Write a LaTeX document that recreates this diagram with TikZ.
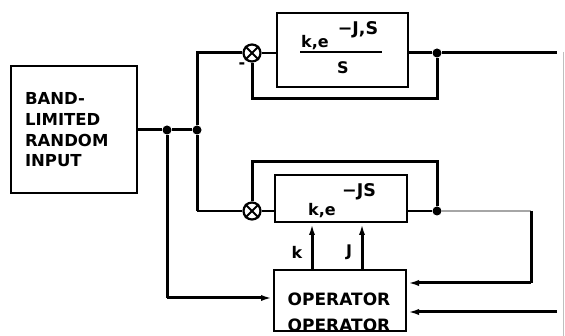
\documentclass[tikz,border=0pt]{standalone}
\usepackage{fontspec}
\setmainfont{DejaVu Sans}
\usetikzlibrary{arrows.meta}
\begin{document}
\begin{tikzpicture}[x=1pt,y=-1pt,
  thick line/.style={line width=3pt},
  thin line/.style={line width=1.3pt},
  blockbox/.style={draw, line width=2pt, inner sep=0pt},
  lab/.style={font=\bfseries\fontsize{16.5}{20.7}\selectfont, inner sep=0pt},
  boxtxt/.style={font=\bfseries\fontsize{16}{18}\selectfont, inner sep=0pt},
  suptxt/.style={font=\bfseries\fontsize{17.5}{18}\selectfont, inner sep=0pt},
  opt/.style={font=\bfseries\fontsize{17}{20}\selectfont, inner sep=0pt},
  dotj/.style={circle, fill, inner sep=0pt, minimum size=9pt},
  sumj/.style={circle, draw, line width=2.2pt, inner sep=0pt, minimum size=17pt},
  arr/.style={-{Latex[length=12pt,width=6pt]}},
]
\useasboundingbox (0,0) rectangle (565,336);

% input block
\node[blockbox, minimum width=126pt, minimum height=127pt, text width=98pt, align=left, lab] (band) at (74,130) {BAND-\\LIMITED\\RANDOM\\INPUT};
\node[dotj] (j1) at (167,130) {};
\node[dotj] (j2) at (197,130) {};
\draw[thick line] (band.east) -- (j1) -- (j2);

% upper loop
\node[sumj] (s1) at (252,53) {};
\draw[line width=2pt] (s1.45) -- (s1.225) (s1.135) -- (s1.315);
\node[boxtxt] (m1) at (242,66) {-};
\node[blockbox, minimum width=131pt, minimum height=74pt] (b1) at (342.5,50) {};
\node[boxtxt] (t1a) at (315,43) {k,e};
\node[suptxt] (t1b) at (358,30) {−J,S};
\coordinate (fl1) at (300,52);
\coordinate (fl2) at (382,52);
\draw[line width=1.5pt] (fl1) -- (fl2);
\node[boxtxt] (t1c) at (343,68) {S};
\node[dotj] (d3) at (437,53) {};
\coordinate (o1) at (557,53);
\draw[thick line] (j2) |- (s1.west);
\draw[thin line] (s1.east) -- (b1.west |- s1);
\draw[thick line] (b1.east |- d3) -- (d3) -- (o1);
\coordinate (f1) at (437,99);
\draw[thick line] (d3) -- (f1) -| (s1.south);

% lower loop
\node[sumj] (s2) at (252,211) {};
\draw[line width=2pt] (s2.45) -- (s2.225) (s2.135) -- (s2.315);
\node[blockbox, minimum width=132pt, minimum height=47pt] (b2) at (341,198.5) {};
\node[boxtxt] (t2a) at (322,211) {k,e};
\node[suptxt] (t2b) at (359,192) {−JS};
\node[dotj] (d4) at (437,211) {};
\coordinate (c2) at (197,211);
\draw[thick line] (j2) -- (c2);
\draw[thin line] (c2) -- (s2.west);
\draw[thin line] (s2.east) -- (b2.west |- s2);
\draw[thin line] (b2.east |- d4) -- (d4);
\coordinate (f2) at (437,162);
\draw[thick line] (d4) -- (f2) -| (s2.north);

% operator
\begin{scope}
\clip (274,270) rectangle (406,331);
\node[opt] (op1) at (339,299) {OPERATOR};
\node[opt] (op2) at (339,325) {OPERATOR};
\end{scope}
\node[blockbox, minimum width=132pt, minimum height=61pt] (op) at (340,300.5) {};

\coordinate (r1) at (531,211);
\coordinate (r2) at (531,283);
\draw[thin line, gray!70] (d4) -- (r1);
\draw[thick line] (r1) -- (r2);
\draw[thick line, arr] (r2) -- (op.east |- r2);

\coordinate (c1) at (167,298);
\draw[thick line] (j1) -- (c1);
\draw[thick line, arr] (c1) -- (op.west |- c1);
\coordinate (o2) at (557,312);
\draw[thick line, arr] (o2) -- (op.east |- o2);

\coordinate (kx) at (312,0);
\coordinate (jx) at (362,0);
\draw[thick line, arr] (op.north -| kx) -- (b2.south -| kx);
\draw[thick line, arr] (op.north -| jx) -- (b2.south -| jx);
\node[boxtxt] (lk) at (297,252) {k};
\node[boxtxt] (lj) at (349,252) {J};

% page edge
\coordinate (e1) at (563,52);
\coordinate (e2) at (563,336);
\draw[gray!50, line width=0.8pt] (e1) -- (e2);
\end{tikzpicture}
\end{document}
